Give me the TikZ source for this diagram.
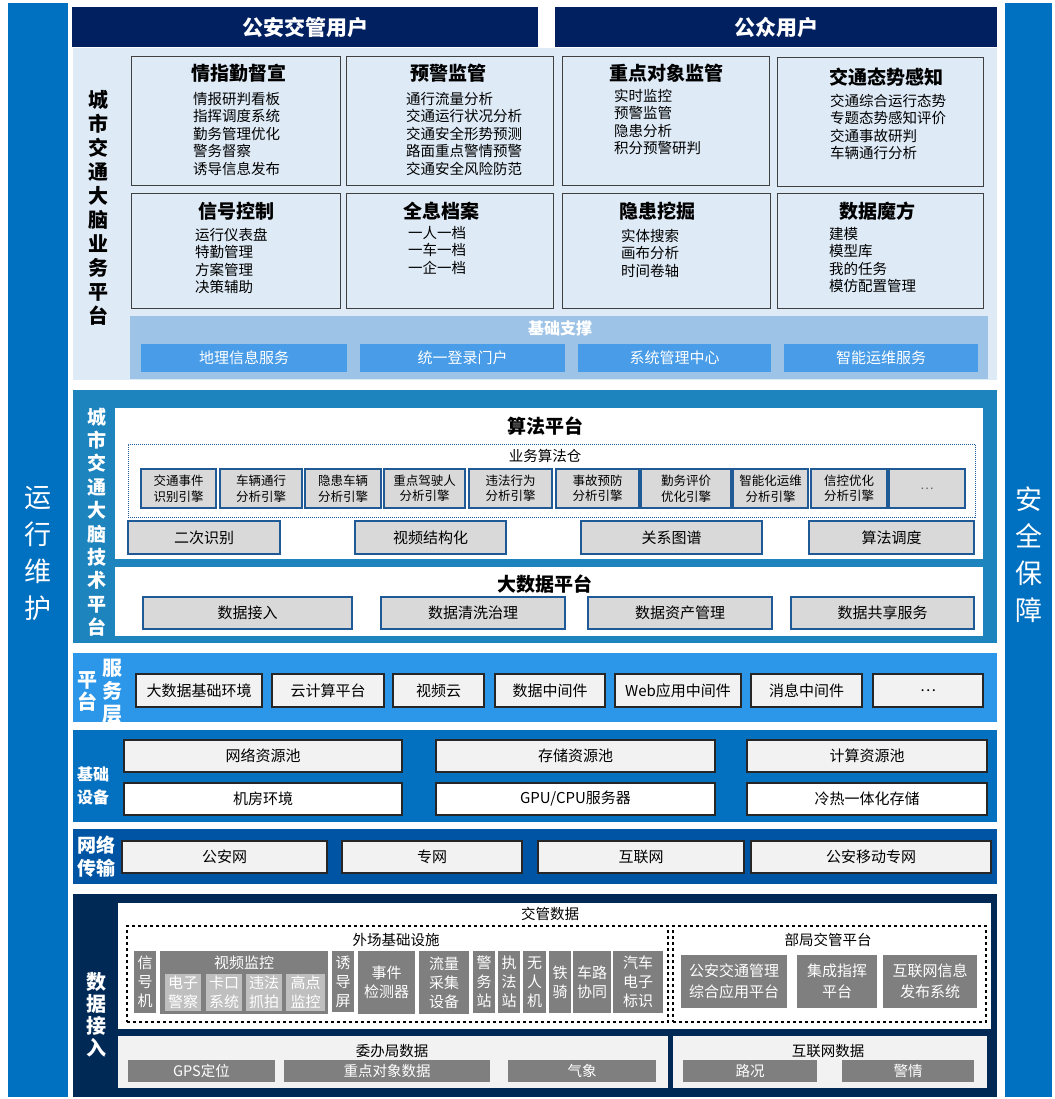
\documentclass[tikz,border=0pt]{standalone}
\usepackage{fontspec}
\setmainfont{Noto Sans CJK SC}
\usepackage{tikz}
\usepackage{xcolor}

\definecolor{barblue}{RGB}{0,112,192}
\definecolor{navy}{RGB}{0,32,96}
\definecolor{bizbg}{RGB}{222,234,246}
\definecolor{boxline}{RGB}{64,64,64}
\definecolor{supband}{RGB}{157,195,230}
\definecolor{supbox}{RGB}{72,156,232}
\definecolor{techbg}{RGB}{30,132,190}
\definecolor{engfill}{RGB}{217,217,217}
\definecolor{engline}{RGB}{31,90,150}
\definecolor{svcbg}{RGB}{44,150,232}
\definecolor{infbg}{RGB}{4,112,192}
\definecolor{netbg}{RGB}{0,84,164}
\definecolor{accbg}{RGB}{0,41,86}
\definecolor{lightbox}{RGB}{242,242,242}
\definecolor{darkitem}{RGB}{127,127,127}
\definecolor{subitem}{RGB}{191,191,191}

\newcommand{\fsz}[2]{\fontsize{#1}{#2}\selectfont}
% box given by its corners: name, style, x1, y1, x2, y2, text
\newcommand{\archbox}[7]{%
  \node[#2, minimum width={(#5-#3)*1pt}, minimum height={(#6-#4)*1pt}] (#1) at ({(#3+#5)/2},{(#4+#6)/2}) {#7};}

\begin{document}
\begin{tikzpicture}[x=1pt, y=-1pt,
  cell/.style={rectangle, inner sep=0pt, outer sep=0pt, align=center},
  sidebar/.style={cell, fill=barblue},
  sidetxt/.style={text=white, align=center, font=\fsz{27}{37}},
  usrhead/.style={cell, fill=navy, text=white, font=\fsz{21}{24}\bfseries},
  layer/.style={cell, fill=#1},
  laytxt/.style={text=white, align=center, inner sep=0pt, font=\fsz{19}{23.4}\bfseries},
  bizbox/.style={cell, draw=boxline, line width=1pt, fill=bizbg},
  biztitle/.style={inner sep=0pt, font=\fsz{19}{22}\bfseries},
  bizlist/.style={anchor=north west, inner sep=0pt, align=left, font=\fsz{14.5}{17.5}},
  supbtn/.style={cell, fill=supbox, text=white, font=\fsz{15}{17}},
  panel/.style={cell, fill=white},
  ptitle/.style={inner sep=0pt, font=\fsz{19}{22}\bfseries},
  engine/.style={cell, fill=engfill, draw=engline, line width=1.2pt, font=\fsz{12.5}{15.5}},
  greybox/.style={cell, fill=lightbox, draw=black!85, line width=1.2pt, font=\fsz{15}{17}},
  whitebox/.style={cell, fill=white, draw=black!85, line width=1.2pt, font=\fsz{15}{17}},
  dashbox/.style={cell, draw=black, dashed, line width=1.2pt},
  item/.style={cell, fill=darkitem, text=white, font=\fsz{15}{19}},
  subbox/.style={cell, fill=subitem, text=white, font=\fsz{15}{19}},
  smalltxt/.style={inner sep=0pt, font=\fsz{14.5}{16}}
]
  \useasboundingbox (0,0) rectangle (1054,1099);
  \fill[white] (0,0) rectangle (1054,1099);

  % Side bars
  \archbox{ops}{sidebar}{8}{3}{68}{1097}{}
  \archbox{sec}{sidebar}{1005}{3}{1052}{1097}{}
  \node[sidetxt] (opslbl) at (38,553) {运\\行\\维\\护};
  \node[sidetxt] (seclbl) at (1029,555) {安\\全\\保\\障};

  % Users
  \archbox{police}{usrhead}{72}{7}{538}{47}{公安交管用户}
  \archbox{public}{usrhead}{555}{7}{997}{47}{公众用户}

  % Business platform
  \archbox{biz}{layer=bizbg}{73}{48}{997}{380}{}
  \node[laytxt, text=black, font=\fsz{20}{24}\bfseries] (bizlbl) at (98,208)
    {城\\市\\交\\通\\大\\脑\\业\\务\\平\\台};

  \archbox{qz}{bizbox}{131}{57}{340}{186}{}
  \node[biztitle] (qzt) at (239,73) {情指勤督宣};
  \node[bizlist] (qzl) at (193,91.75) {情报研判看板\\指挥调度系统\\勤务管理优化\\警务督察\\诱导信息发布};

  \archbox{yj}{bizbox}{346}{57}{553}{186}{}
  \node[biztitle] (yjt) at (448,73) {预警监管};
  \node[bizlist] (yjl) at (406,91.75) {通行流量分析\\交通运行状况分析\\交通安全形势预测\\路面重点警情预警\\交通安全风险防范};

  \archbox{zd}{bizbox}{562}{57}{769}{186}{}
  \node[biztitle] (zdt) at (666,73) {重点对象监管};
  \node[bizlist] (zdl) at (614,88.75) {实时监控\\预警监管\\隐患分析\\积分预警研判};

  \archbox{tx}{bizbox}{777}{58}{983}{187}{}
  \node[biztitle] (txt) at (886,77) {交通态势感知};
  \node[bizlist] (txl) at (830,93.75) {交通综合运行态势\\专题态势感知评价\\交通事故研判\\车辆通行分析};

  \archbox{xh}{bizbox}{131}{194}{340}{308}{}
  \node[biztitle] (xht) at (236,211) {信号控制};
  \node[bizlist] (xhl) at (195,227.75) {运行仪表盘\\特勤管理\\方案管理\\决策辅助};

  \archbox{qx}{bizbox}{346}{194}{553}{308}{}
  \node[biztitle] (qxt) at (441,211) {全息档案};
  \node[bizlist] (qxl) at (408,225.75) {一人一档\\一车一档\\一企一档};

  \archbox{yh}{bizbox}{562}{194}{770}{308}{}
  \node[biztitle] (yht) at (657,211) {隐患挖掘};
  \node[bizlist] (yhl) at (621,228.75) {实体搜索\\画布分析\\时间卷轴};

  \archbox{sj}{bizbox}{777}{194}{983}{308}{}
  \node[biztitle] (sjt) at (877,211) {数据魔方};
  \node[bizlist] (sjl) at (829,226.75) {建模\\模型库\\我的任务\\模仿配置管理};

  % Basic support band
  \archbox{sup}{layer=supband}{130}{316}{988}{379}{}
  \node[inner sep=0pt, text=white, font=\fsz{16}{18}\bfseries] (supt) at (560,328) {基础支撑};
  \foreach \a/\b/\t [count=\i] in {141/347/地理信息服务, 360/565/统一登录门户, 578/771/系统管理中心, 784/978/智能运维服务}
    {\archbox{sup\i}{supbtn}{\a}{344}{\b}{372}{\t}}

  % Technical platform
  \archbox{tech}{layer=techbg}{73}{390}{997}{643}{}
  \node[laytxt] (techlbl) at (97,522) {城\\市\\交\\通\\大\\脑\\技\\术\\平\\台};

  \archbox{algo}{panel}{115}{408}{983}{559}{}
  \node[ptitle] (algot) at (545,426) {算法平台};
  \archbox{store}{cell, draw=engline, densely dotted, line width=1pt}{128}{444}{975}{517}{}
  \node[smalltxt] (storet) at (545,456) {业务算法仓};
  \foreach \a/\b/\t [count=\i] in {141/216/{交通事件\\识别引擎}, 220/302/{车辆通行\\分析引擎},
      305/381/{隐患车辆\\分析引擎}, 384/465/{重点驾驶人\\分析引擎}, 469/552/{违法行为\\分析引擎},
      556/639/{事故预防\\分析引擎}, 641/731/{勤务评价\\优化引擎}, 733/808/{智能化运维\\分析引擎},
      811/887/{信控优化\\分析引擎}, 889/965/{\textcolor{black!60}{…}}}
    {\archbox{eng\i}{engine}{\a}{469}{\b}{508}{\t}}
  \foreach \a/\b/\t [count=\i] in {128/280/二次识别, 355/506/视频结构化, 581/762/关系图谱, 809/974/算法调度}
    {\archbox{alg\i}{engine, font=\fsz{15}{17}}{\a}{521}{\b}{554}{\t}}

  \archbox{bigdata}{panel}{115}{567}{983}{636}{}
  \node[ptitle] (bigt) at (545,584) {大数据平台};
  \foreach \a/\b/\t [count=\i] in {143/352/数据接入, 381/565/数据清洗治理, 588/772/数据资产管理, 791/974/数据共享服务}
    {\archbox{bd\i}{engine, font=\fsz{15}{17}}{\a}{597}{\b}{629}{\t}}

  % Platform service layer
  \archbox{svc}{layer=svcbg}{73}{653}{997}{722}{}
  \node[laytxt, font=\fsz{20}{22}\bfseries] (svclbla) at (87,691) {平\\台};
  \node[laytxt, font=\fsz{20}{23}\bfseries] (svclblb) at (112,691) {服\\务\\层};
  \foreach \a/\b/\t [count=\i] in {136/262/大数据基础环境, 272/384/云计算平台, 393/484/视频云, 495/605/数据中间件,
      615/741/Web应用中间件, 751/862/消息中间件, 873/983/…}
    {\archbox{svc\i}{greybox}{\a}{674}{\b}{707}{\t}}

  % Basic equipment
  \archbox{inf}{layer=infbg}{73}{730}{997}{822}{}
  \node[laytxt, font=\fsz{16}{23}\bfseries] (inflbl) at (93,786) {基础\\设备};
  \foreach \a/\b/\t [count=\i] in {124/402/网络资源池, 436/715/存储资源池, 747/987/计算资源池}
    {\archbox{pool\i}{greybox}{\a}{740}{\b}{772}{\t}}
  \foreach \a/\b/\t [count=\i] in {124/402/机房环境, 436/715/{GPU/CPU服务器}, 747/987/冷热一体化存储}
    {\archbox{hw\i}{whitebox}{\a}{783}{\b}{815}{\t}}

  % Network transport
  \archbox{net}{layer=netbg}{73}{829}{997}{884}{}
  \node[laytxt, font=\fsz{19}{23}\bfseries] (netlbl) at (96,857) {网络\\传输};
  \foreach \a/\b/\t [count=\i] in {122/327/公安网, 342/522/专网, 538/744/互联网, 751/991/公安移动专网}
    {\archbox{net\i}{greybox}{\a}{841}{\b}{873}{\t}}

  % Data access
  \archbox{acc}{layer=accbg}{73}{894}{997}{1097}{}
  \node[laytxt, font=\fsz{20}{22}\bfseries] (acclbl) at (96,1015) {数\\据\\接\\入};

  \archbox{tm}{panel}{118}{903}{991}{1029}{}
  \node[smalltxt] (tmt) at (550,914) {交管数据};
  \archbox{field}{dashbox}{127}{926}{668}{1022}{}
  \node[smalltxt] (fieldt) at (396,940) {外场基础设施};
  \archbox{dept}{dashbox}{673}{926}{986}{1022}{}
  \node[smalltxt] (deptt) at (828,940) {部局交管平台};

  \archbox{sig}{item}{134}{951}{156}{1013}{信\\号\\机}
  \archbox{video}{item}{160}{951}{328}{1014}{}
  \node[inner sep=0pt, text=white, font=\fsz{15}{17}] (videot) at (244,963) {视频监控};
  \foreach \a/\b/\t [count=\i] in {165/201/{电子\\警察}, 206/242/{卡口\\系统}, 246/282/{违法\\抓拍}, 286/325/{高点\\监控}}
    {\archbox{cam\i}{subbox}{\a}{974}{\b}{1011}{\t}}
  \archbox{guide}{item}{332}{951}{354}{1012}{诱\\导\\屏}
  \archbox{event}{item}{358}{951}{415}{1014}{事件\\检测器}
  \archbox{flow}{item}{419}{951}{469}{1014}{流量\\采集\\设备}
  \archbox{pstn}{item}{473}{951}{495}{1013}{警\\务\\站}
  \archbox{lstn}{item}{498}{951}{520}{1013}{执\\法\\站}
  \archbox{drone}{item}{523}{951}{546}{1013}{无\\人\\机}
  \archbox{moto}{item}{549}{951}{571}{1013}{铁\\骑}
  \archbox{v2x}{item}{573}{951}{611}{1013}{车路\\协同}
  \archbox{etag}{item}{613}{951}{663}{1013}{汽车\\电子\\标识}

  \archbox{dp1}{item, font=\fsz{15}{21}}{681}{955}{787}{1008}{公安交通管理\\综合应用平台}
  \archbox{dp2}{item, font=\fsz{15}{21}}{797}{955}{877}{1008}{集成指挥\\平台}
  \archbox{dp3}{item, font=\fsz{15}{21}}{883}{955}{977}{1008}{互联网信息\\发布系统}

  \archbox{gov}{layer=lightbox}{118}{1036}{668}{1088}{}
  \node[smalltxt] (govt) at (392,1051) {委办局数据};
  \foreach \a/\b/\t [count=\i] in {128/275/GPS定位, 284/490/重点对象数据, 508/656/气象}
    {\archbox{gov\i}{item, font=\fsz{14.5}{16}}{\a}{1060}{\b}{1082}{\t}}

  \archbox{web}{layer=lightbox}{673}{1036}{987}{1088}{}
  \node[smalltxt] (webt) at (828,1051) {互联网数据};
  \foreach \a/\b/\t [count=\i] in {683/817/路况, 842/974/警情}
    {\archbox{web\i}{item, font=\fsz{14.5}{16}}{\a}{1060}{\b}{1082}{\t}}
\end{tikzpicture}
\end{document}
